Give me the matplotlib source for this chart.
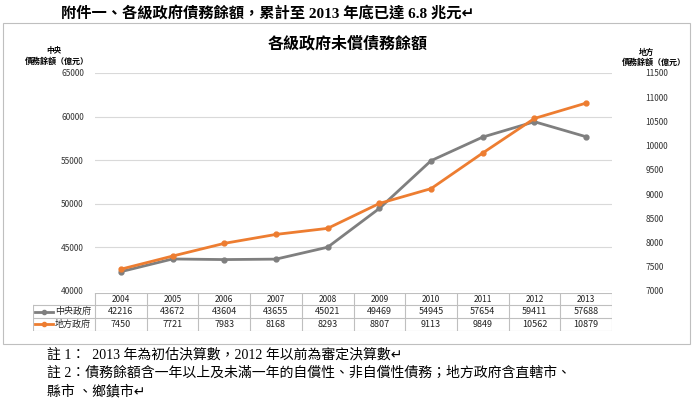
import matplotlib
matplotlib.use("Agg")
import matplotlib.pyplot as plt
from matplotlib.patches import Rectangle

plt.rcParams["font.family"] = ["Noto Sans CJK TC", "DejaVu Sans"]

years = ["2004", "2005", "2006", "2007", "2008", "2009", "2010", "2011", "2012", "2013"]
central = [42216, 43672, 43604, 43655, 45021, 49469, 54945, 57654, 59411, 57688]
local = [7450, 7721, 7983, 8168, 8293, 8807, 9113, 9849, 10562, 10879]
series_names = ["中央政府", "地方政府"]
left_ticks = [40000, 45000, 50000, 55000, 60000, 65000]
right_ticks = [7000, 7500, 8000, 8500, 9000, 9500, 10000, 10500, 11000, 11500]

header = "附件一、各級政府債務餘額，累計至 2013 年底已達 6.8 兆元↵"
chart_title = "各級政府未償債務餘額"
notes = [
    "註 1：  2013 年為初估決算數，2012 年以前為審定決算數↵",
    "註 2：債務餘額含一年以上及未滿一年的自償性、非自償性債務；地方政府含直轄市、",
    "縣市 、鄉鎮市↵",
]

GRAY = "#7f7f7f"
ORANGE = "#ed7d31"
GRID = "#d9d9d9"
W, H = 696, 409


def fx(px):
    return px / W


def fy(py):
    return 1 - py / H


fig = plt.figure(figsize=(W / 100, H / 100), dpi=100)

# chart border
fig.patches.append(Rectangle((fx(3), fy(344)), fx(687), 321 / H, transform=fig.transFigure,
                             fill=False, edgecolor="#bfbfbf", linewidth=0.8))

# page header and notes
serif_cjk = ["Liberation Serif", "Noto Sans CJK TC", "DejaVu Sans"]
fig.text(fx(61), fy(13), header, fontsize=11, fontweight="bold", va="center", ha="left",
         family=serif_cjk)
for i, line in enumerate(notes):
    fig.text(fx(47), fy(355 + i * 18.5), line, fontsize=10, va="center", ha="left",
             family=serif_cjk)

fig.text(fx(348), fy(44), chart_title, fontsize=11.5, fontweight="bold", ha="center", va="center")
fig.text(fx(54), fy(51), "中央", fontsize=5.5, fontweight="bold", ha="center", va="center")
fig.text(fx(57), fy(61), "債務餘額（億元）", fontsize=5.8, fontweight="bold", ha="center", va="center")
fig.text(fx(646), fy(52), "地方", fontsize=5.5, fontweight="bold", ha="center", va="center")
fig.text(fx(654), fy(62), "債務餘額（億元）", fontsize=5.8, fontweight="bold", ha="center", va="center")

# main plot
ax = fig.add_axes([fx(95), fy(291), fx(517), 218 / H])
x = list(range(len(years)))
ax.set_xlim(-0.5, len(years) - 0.5)
ax.set_ylim(left_ticks[0], left_ticks[-1])
ax.set_yticks(left_ticks)
ax.set_yticklabels([str(t) for t in left_ticks], fontsize=6, color="#333333")
ax.set_xticks([])
ax.tick_params(axis="y", length=0, pad=8)
ax.grid(axis="y", color=GRID, linewidth=0.8)
ax.set_axisbelow(True)
for s in ax.spines.values():
    s.set_visible(False)
ax.plot(x, central, color=GRAY, linewidth=2, marker="o", markersize=3.5, zorder=3)

ax2 = ax.twinx()
ax2.set_ylim(right_ticks[0], right_ticks[-1])
ax2.set_yticks(right_ticks)
ax2.set_yticklabels([str(t) for t in right_ticks], fontsize=6, color="#333333")
ax2.tick_params(axis="y", length=0, pad=24)
for s in ax2.spines.values():
    s.set_visible(False)
ax2.plot(x, local, color=ORANGE, linewidth=2, marker="o", markersize=3.5, zorder=3)

# data table below the plot
col_w = 51.7
lab_left = -0.5 - (95 - 33) / col_w
tax = fig.add_axes([fx(33), fy(330.7), fx(612 - 33), 38 / H])
tax.set_xlim(lab_left, len(years) - 0.5)
tax.set_ylim(3, 0)
tax.axis("off")
lc = "#bfbfbf"
tax.plot([-0.5, len(years) - 0.5], [0, 0], color=lc, lw=0.8)
for r in (1, 2, 3):
    tax.plot([lab_left, len(years) - 0.5], [r, r], color=lc, lw=0.8)
tax.plot([lab_left, lab_left], [1, 3], color=lc, lw=0.8)
for k in range(len(years) + 1):
    tax.plot([k - 0.5, k - 0.5], [0, 3], color=lc, lw=0.8)
for i, yr in enumerate(years):
    tax.text(i, 0.5, yr, fontsize=6, ha="center", va="center", color="#222222")
    tax.text(i, 1.5, str(central[i]), fontsize=6.5, ha="center", va="center", color="#222222")
    tax.text(i, 2.5, str(local[i]), fontsize=6.5, ha="center", va="center", color="#222222")
for r, (name, col) in enumerate(zip(series_names, [GRAY, ORANGE])):
    yrow = r + 1.5
    tax.plot([lab_left + 0.04, lab_left + 0.38], [yrow, yrow], color=col, lw=2)
    tax.plot([lab_left + 0.21], [yrow], color=col, marker="o", markersize=3)
    tax.text(lab_left + 0.42, yrow, name, fontsize=6.5, ha="left", va="center", color="#222222")

fig.savefig("out.png", dpi=100)
